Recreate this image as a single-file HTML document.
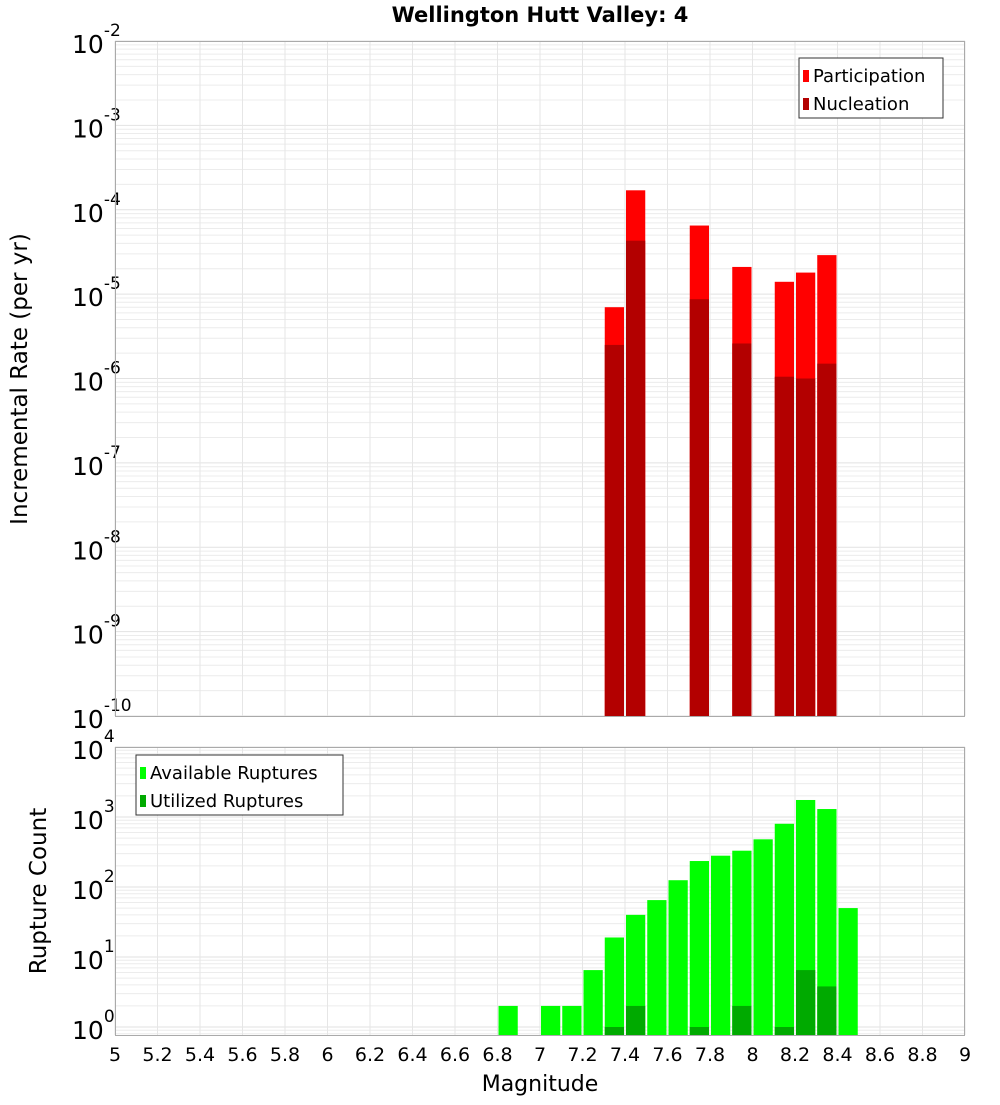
<!DOCTYPE html>
<html><head><meta charset="utf-8">
<style>
body{margin:0;background:#fff;font-family:"Liberation Sans","DejaVu Sans",sans-serif;}
svg text{font-family:"DejaVu Sans","Liberation Sans",sans-serif;}
</style></head>
<body>
<svg id="c" width="1000" height="1100" xmlns="http://www.w3.org/2000/svg">
<text x="540" y="22" text-anchor="middle" font-size="21" font-weight="bold">Wellington Hutt Valley: 4</text>
<g id="top"></g><g id="bot"></g>
</svg>
<script>
const binCenters=[7.35,7.45,7.75,7.95,8.15,8.25,8.35];
const participation=[7e-6,1.7e-4,6.5e-5,2.1e-5,1.4e-5,1.8e-5,2.9e-5];
const nucleation=[2.5e-6,4.3e-5,8.7e-6,2.6e-6,1.05e-6,1.0e-6,1.5e-6];
const countCenters=[6.85,7.05,7.15,7.25,7.35,7.45,7.55,7.65,7.75,7.85,7.95,8.05,8.15,8.25,8.35,8.45];
const available=[2,2,2,6.5,19,40,65,125,235,280,330,480,800,1750,1300,50];
const utilizedCenters=[7.35,7.45,7.75,7.95,8.15,8.25,8.35];
const utilized=[1,2,1,2,1,6.5,3.8];
const xTicks=[5,5.2,5.4,5.6,5.8,6,6.2,6.4,6.6,6.8,7,7.2,7.4,7.6,7.8,8,8.2,8.4,8.6,8.8,9];
const topExps=[-10,-9,-8,-7,-6,-5,-4,-3,-2];
const botExps=[0,1,2,3,4];

const NS="http://www.w3.org/2000/svg";
const X0=115,X1=965;
const xs=v=>X0+(v-5)/4*(X1-X0);
function ysTop(v){return 41+(-2-Math.log10(v))*84.375;}
function ysBot(v){return 747+(4-Math.log10(v))*70;}
function mk(p,tag,a){const e=document.createElementNS(NS,tag);for(const k in a)e.setAttribute(k,a[k]);p.appendChild(e);return e;}
const svg=document.getElementById('c');

function panel(g,yT,yB,ys,exps,minV,name){
  mk(g,'rect',{x:X0,y:yT,width:X1-X0,height:yB-yT,fill:'#fff'});
  // minor grid
  for(let e=exps[0]-1;e<=exps[exps.length-1];e++){
    for(let m=1;m<10;m++){const v=m*Math.pow(10,e);const y=ys(v);
      if(y<yT-0.1||y>yB+0.1)continue;
      const l=mk(g,'line',{x1:X0,x2:X1,y1:y,y2:y,stroke:m===1?'#e2e2e2':'#ececec','stroke-width':1});
      
      
    }
  }
  xTicks.forEach(t=>{const x=xs(t);const l=mk(g,'line',{x1:x,x2:x,y1:yT,y2:yB,stroke:'#e6e6e6'});
    
    });
  exps.forEach(e=>{const y=ys(Math.pow(10,e));
    const t=mk(g,'text',{x:72,y:y+12,'font-size':25});
    
    
    t.textContent='10';
    const s=mk(t,'tspan',{dy:-17,'font-size':17});s.textContent=String(e);
  });
}
function frame(g,yT,yB,name){
  const r=mk(g,'rect',{x:X0+0.5,y:yT+0.5,width:X1-X0-1,height:yB-yT,fill:'none',stroke:'#aaa'});
  
  
}
function bars(g,centers,vals,ys,yB,color,name){
  centers.forEach((c,i)=>{const x=xs(c-0.05)+1;const w=xs(c+0.05)-xs(c-0.05)-2;const y=ys(vals[i]);
    const r=mk(g,'rect',{x:x,y:y,width:w,height:yB-y,fill:color});
    
    });
}
function legend(g,x,y,w,items,name){
  const r=mk(g,'rect',{x:x,y:y,width:w,height:60,fill:'#fff',stroke:'#333'});
  
  
  items.forEach((it,i)=>{
    const s=mk(g,'rect',{x:x+4,y:y+12+i*28,width:6,height:12,fill:it[1]});
    
    
    const t=mk(g,'text',{x:x+14,y:y+24+i*28,'font-size':18});
    
    
    t.textContent=it[0];});
}
const gt=document.getElementById('top');
panel(gt,41,716,ysTop,topExps,1e-10,'top');
bars(gt,binCenters,participation,ysTop,716,'#ff0000','participation');
bars(gt,binCenters,nucleation,ysTop,716,'#b30000','nucleation');
frame(gt,41,716,'top');
legend(gt,799,58,144,[['Participation','#ff0000'],['Nucleation','#b30000']],'top-legend');
const yl=mk(gt,'text',{x:0,y:0,'font-size':23,'text-anchor':'middle',transform:'translate(27,379) rotate(-90)'});


yl.textContent='Incremental Rate (per yr)';

const gb=document.getElementById('bot');
panel(gb,747,1035,ysBot,botExps,0.77,'bottom');
bars(gb,countCenters,available,ysBot,1035,'#00ff00','available');
bars(gb,utilizedCenters,utilized,ysBot,1035,'#00aa00','utilized');
frame(gb,747,1035,'bottom');
legend(gb,136,755,207,[['Available Ruptures','#00ff00'],['Utilized Ruptures','#00aa00']],'bottom-legend');
const yl2=mk(gb,'text',{x:0,y:0,'font-size':23,'text-anchor':'middle',transform:'translate(46,891) rotate(-90)'});


yl2.textContent='Rupture Count';
xTicks.forEach(t=>{const e=mk(gb,'text',{x:xs(t),y:1061,'font-size':19,'text-anchor':'middle'});
  
  
  e.textContent=String(t);});
const xl=mk(gb,'text',{x:540,y:1091,'font-size':22,'text-anchor':'middle'});


xl.textContent='Magnitude';
</script>
</body></html>
